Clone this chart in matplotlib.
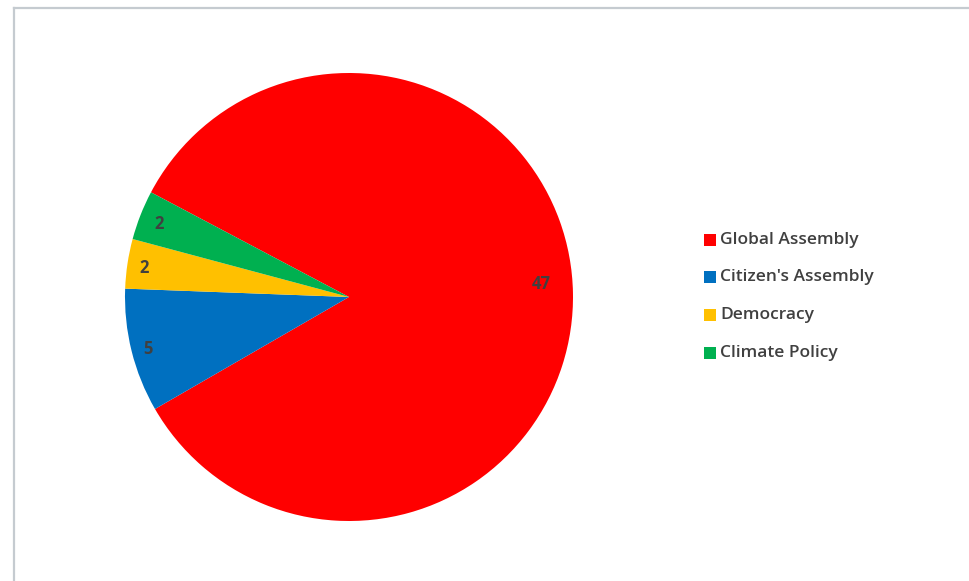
import numpy as np
import matplotlib
matplotlib.use("Agg")
import matplotlib.pyplot as plt
from matplotlib.patches import Rectangle

categories = ["Global Assembly", "Citizen's Assembly", "Democracy", "Climate Policy"]
counts = [47, 5, 2, 2]
colors = ["#FF0000", "#0070C0", "#FFC000", "#00B050"]
label_dist = [0.86, 0.925, 0.925, 0.91]
label_turn = [3.2, 0, 0, 0]  # degrees added to a slice's mid-angle for its label

W, H = 969, 581
fig = plt.figure(figsize=(W / 100, H / 100), dpi=100)
fig.patch.set_facecolor("white")

# thin chart-area frame, open at the right and bottom edges
frame = fig.add_axes([0, 0, 1, 1])
frame.set_xlim(0, W)
frame.set_ylim(H, 0)
frame.axis("off")
frame.plot([14.5, W + 5], [7.5, 7.5], color="#c5cbd0", lw=1.6)
frame.plot([14.5, 14.5], [7.5, H + 5], color="#c5cbd0", lw=1.6)

# pie: centre (349, 297) px, radius 224 px
cx, cy, r = 349, 297, 224
ax = fig.add_axes([(cx - r) / W, (H - cy - r) / H, 2 * r / W, 2 * r / H])
wedges, _ = ax.pie(counts, colors=colors, startangle=152.14, counterclock=False,
                   radius=1, wedgeprops=dict(linewidth=0))
ax.set_xlim(-1, 1)
ax.set_ylim(-1, 1)
ax.set_aspect("equal")
ax.axis("off")

for w, n, d, t in zip(wedges, counts, label_dist, label_turn):
    mid = np.deg2rad((w.theta1 + w.theta2) / 2 + t)
    ax.text(d * np.cos(mid), d * np.sin(mid) - 0.008, str(n), ha="center", va="center",
            fontsize=12, fontweight="bold", color="#404040", family="Open Sans")

# legend drawn by hand
ys = [240, 277, 315, 353]
for name, c, y in zip(categories, colors, ys):
    frame.add_patch(Rectangle((704, y - 6), 12, 12, facecolor=c, edgecolor="none"))
    frame.text(720, y, name, ha="left", va="center", fontsize=12.5,
               color="#404040", family="Open Sans", fontweight="semibold")

fig.savefig("out.png", dpi=100)
